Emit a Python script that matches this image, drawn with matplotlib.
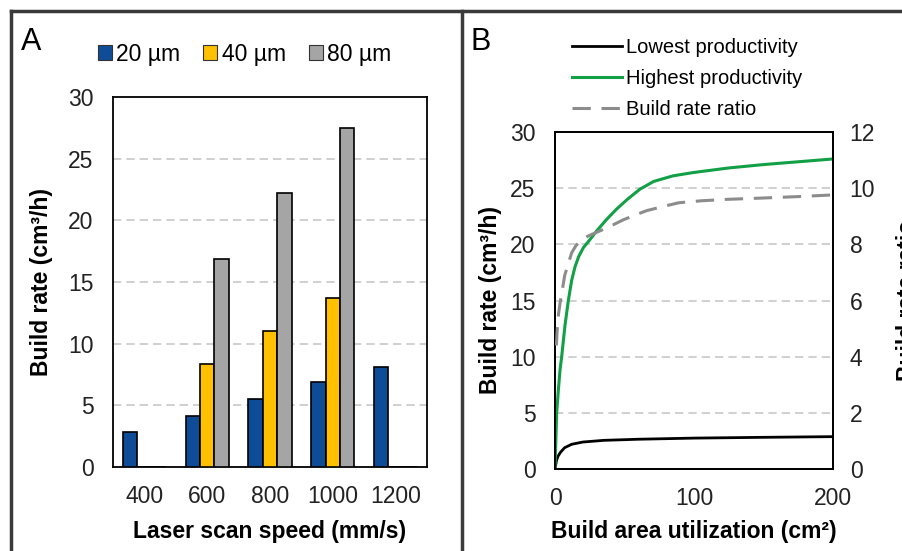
import numpy as np
import matplotlib
matplotlib.use("Agg")
import matplotlib.pyplot as plt
from matplotlib.patches import Patch
from matplotlib.lines import Line2D

plt.rcParams['font.family'] = ['Liberation Sans', 'DejaVu Sans']

# Panel A: build rate vs laser scan speed
speeds = ['400', '600', '800', '1000', '1200']
layer_labels = ['20 µm', '40 µm', '80 µm']
rate_20 = [2.8, 4.16, 5.5, 6.9, 8.13]
rate_40 = [0, 8.33, 11.05, 13.73, 0]
rate_80 = [0, 16.84, 22.25, 27.5, 0]
bar_colors = ['#0f4c97', '#ffc000', '#a5a5a5']

# Panel B: build rate vs build area utilization
area_low = [0, 1, 2, 4, 7, 12, 20, 35, 60, 100, 150, 200]
rate_low = [0, 0.7, 1.1, 1.5, 1.9, 2.2, 2.4, 2.55, 2.65, 2.75, 2.82, 2.88]
area_high = [0, 1.2, 2.4, 3.6, 4.8, 7.2, 9.6, 12, 14.4, 17, 20.4, 25, 30, 37,
             44, 52, 61, 71, 85, 100, 125, 150, 175, 200]
rate_high = [0, 5.0, 7.0, 8.8, 10.0, 12.8, 15.0, 16.8, 18.0, 18.9, 19.7, 20.4,
             21.2, 22.2, 23.1, 24.0, 24.9, 25.6, 26.1, 26.4, 26.8, 27.1, 27.35, 27.6]
area_ratio = [1, 1.5, 2.5, 3.6, 5, 7, 9.5, 12, 15, 18.5, 24, 31, 40, 49, 58, 66,
              78, 89, 105, 123, 150, 175, 200]
ratio = [4.4, 4.9, 5.5, 5.9, 6.3, 6.9, 7.3, 7.7, 7.95, 8.13, 8.3, 8.45, 8.65,
         8.87, 9.05, 9.2, 9.35, 9.48, 9.55, 9.6, 9.65, 9.7, 9.76]

W, H = 903, 551
fig = plt.figure(figsize=(W / 100, H / 100), dpi=100)

FS = 16.5
tick_color = '#222222'
green = '#12a046'
grid_kw = dict(color='#c8c8c8', linestyle=(0, (5, 3)), linewidth=1.2)

# ---- Panel A ----
axA = fig.add_axes([113 / W, 1 - 467 / H, 314 / W, 370 / H])
x = np.arange(len(speeds))
bw = 0.23
for i, vals in enumerate([rate_20, rate_40, rate_80]):
    axA.bar(x + (i - 1) * bw, vals, bw, color=bar_colors[i], edgecolor='black',
            linewidth=1.2, zorder=3)
axA.set_xlim(-0.5, 4.5)
axA.set_ylim(0, 30)
axA.set_yticks(range(0, 31, 5))
axA.set_xticks(x)
axA.set_xticklabels(speeds)
for v in range(5, 30, 5):
    axA.axhline(v, zorder=1, **grid_kw)
axA.tick_params(length=0, labelsize=FS, colors=tick_color)
axA.tick_params(axis='y', pad=14)
axA.tick_params(axis='x', pad=13)
axA.set_xlabel('Laser scan speed (mm/s)', fontsize=FS, fontweight='bold')
axA.set_ylabel('Build rate (cm³/h)', fontsize=FS, fontweight='bold')
axA.xaxis.set_label_coords(0.5, -0.142)
axA.yaxis.set_label_coords(-0.19, 0.5)
for s in axA.spines.values():
    s.set_linewidth(1.3)
handlesA = [Patch(facecolor=c, edgecolor='#333333', linewidth=0.8) for c in bar_colors]
fig.legend(handlesA, layer_labels, ncol=3, loc='center left',
           bbox_to_anchor=(98 / W, 1 - 54 / H), frameon=False, fontsize=FS,
           handlelength=0.6, handleheight=0.6, handletextpad=0.2,
           columnspacing=1.0, borderaxespad=0, borderpad=0)
fig.text(21 / W, 1 - 42 / H, 'A', fontsize=22, va='center', ha='left')

# ---- Panel B ----
axB = fig.add_axes([555 / W, 1 - 469 / H, 278 / W, 337 / H])
axR = axB.twinx()
axB.plot(area_low, rate_low, color='black', linewidth=2, zorder=4)
axB.plot(area_high, rate_high, color=green, linewidth=2.2, zorder=4)
axR.plot(area_ratio, ratio, color='#8c8c8c', linewidth=2.2,
         linestyle=(0, (6, 3.5)), zorder=3)
axB.set_xlim(0, 200)
axB.set_ylim(0, 30)
axR.set_ylim(0, 12)
axB.set_xticks([0, 100, 200])
axB.set_yticks(range(0, 31, 5))
axR.set_yticks(range(0, 13, 2))
for v in range(5, 30, 5):
    axB.axhline(v, zorder=1, **grid_kw)
axB.tick_params(length=0, labelsize=FS, colors=tick_color)
axB.tick_params(axis='y', pad=14)
axB.tick_params(axis='x', pad=13)
axR.tick_params(length=0, labelsize=FS, colors=tick_color, pad=12)
axB.set_xlabel('Build area utilization (cm²)', fontsize=FS, fontweight='bold')
axB.set_ylabel('Build rate (cm³/h)', fontsize=FS, fontweight='bold')
axR.set_ylabel('Build rate ratio', fontsize=FS, fontweight='bold')
axB.xaxis.set_label_coords(0.5, -0.151)
axB.yaxis.set_label_coords(-0.19, 0.5)
axR.yaxis.set_label_coords(1.225, 0.5)
for ax in (axB, axR):
    for s in ax.spines.values():
        s.set_linewidth(1.3)
handlesB = [Line2D([], [], color='black', linewidth=2),
            Line2D([], [], color=green, linewidth=2.2),
            Line2D([], [], color='#8c8c8c', linewidth=2.2, linestyle=(0, (6, 3.5)))]
fig.legend(handlesB, ['Lowest productivity', 'Highest productivity', 'Build rate ratio'],
           loc='upper left', bbox_to_anchor=(572 / W, 1 - 38 / H), frameon=False,
           fontsize=14.5, handlelength=2.5, handletextpad=0.2, labelspacing=0.6,
           borderaxespad=0, borderpad=0)
fig.text(471 / W, 1 - 42 / H, 'B', fontsize=22, va='center', ha='left')

# panel frames
frame_kw = dict(color='#3a3a3a', linewidth=2.5, transform=fig.transFigure)
fig.add_artist(Line2D([11 / W, 1], [1 - 11 / H, 1 - 11 / H], **frame_kw))
fig.add_artist(Line2D([11 / W, 11 / W], [0, 1 - 11 / H], **frame_kw))
fig.add_artist(Line2D([462 / W, 462 / W], [0, 1 - 11 / H], **frame_kw))

fig.savefig('out.png', dpi=100)
